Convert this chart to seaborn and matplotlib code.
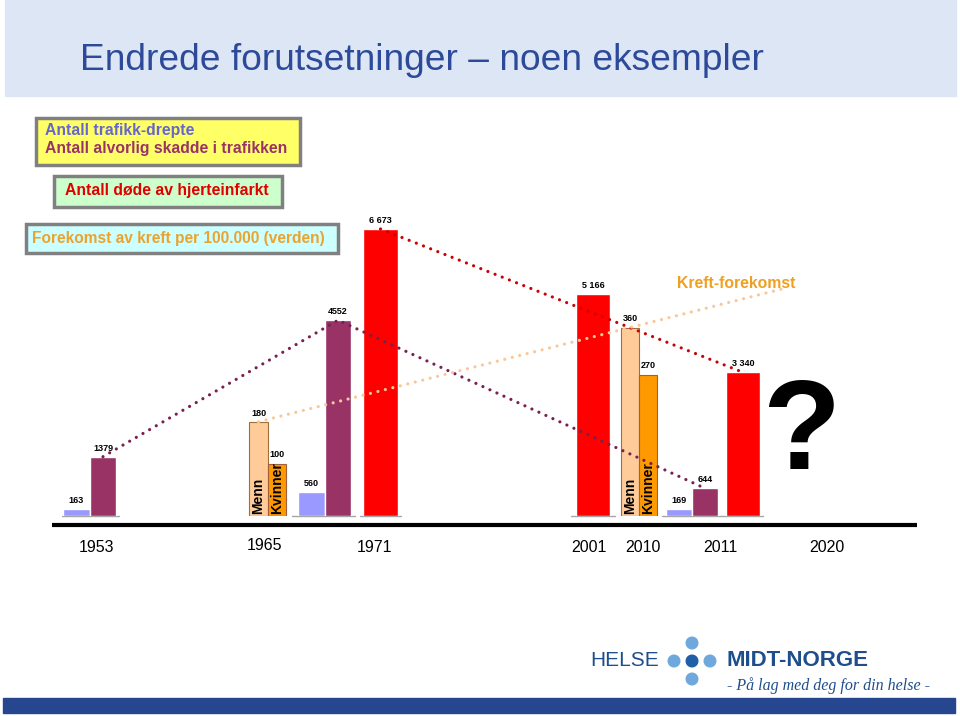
import matplotlib
matplotlib.use("Agg")
import matplotlib.pyplot as plt
from matplotlib.patches import Rectangle, Circle
import seaborn as sns

# Data
killed = [163, 560, 169]            # Antall trafikk-drepte (1953, 1971, 2011)
injured = [1379, 4552, 644]         # Antall alvorlig skadde i trafikken
heart = [6673, 5166, 3340]          # Antall døde av hjerteinfarkt
heart_labels = ["6 673", "5 166", "3 340"]
cancer_men = [180, 360]             # Forekomst av kreft per 100.000 (1965, 2010)
cancer_women = [100, 270]
years = ["1953", "1965", "1971", "2001", "2010", "2011", "2020"]

# Layout (pixel positions across the slide)
killed_x = [76.5, 311.5, 679]
injured_x = [103, 338, 705]
heart_x = [380.5, 593, 743]
men_x = [258.5, 630]
women_x = [277, 648]
year_x = [96, 264, 375, 589, 643, 720, 827]
year_y = [547, 545, 547, 547, 547, 547, 547]

C_BLUE = "#9999FF"
C_PURPLE = "#993366"
C_RED = "#FF0000"
C_PEACH = "#FFCC99"
C_ORANGE = "#FF9900"
C_NAVY = "#1F4E8C"

sns.set_style("white")
plt.rcParams["font.family"] = ["Liberation Sans", "DejaVu Sans"]
plt.rcParams["text.color"] = "black"

fig = plt.figure(figsize=(9.6, 7.16), dpi=100)

# decoration layer in pixel coordinates
deco = fig.add_axes([0, 0, 1, 1])
deco.set_xlim(0, 960)
deco.set_ylim(716, 0)
deco.axis("off")

deco.add_patch(Rectangle((5, 0), 951, 96, color="#DCE6F4", zorder=0))
deco.text(80, 60, "Endrede forutsetninger – noen eksempler", fontsize=26.7,
          color="#2D4A9A", va="center", ha="left")

# legend boxes
deco.add_patch(Rectangle((36, 118), 264, 47, facecolor="#FFFF66",
                         edgecolor="#808080", lw=2.5))
deco.text(45, 130, "Antall trafikk-drepte", fontsize=11.3, weight="bold",
          color="#6666CC", va="center")
deco.text(45, 148, "Antall alvorlig skadde i trafikken", fontsize=11.3,
          weight="bold", color="#993366", va="center")
deco.add_patch(Rectangle((54, 176), 228, 31, facecolor="#CCFFCC",
                         edgecolor="#808080", lw=2.5))
deco.text(167, 190, "Antall døde av hjerteinfarkt", fontsize=11.3,
          weight="bold", color="#E00000", va="center", ha="center")
deco.add_patch(Rectangle((26, 224), 312, 29, facecolor="#CCFFFF",
                         edgecolor="#808080", lw=2.5))
deco.text(178, 238, "Forekomst av kreft per 100.000 (verden)", fontsize=11.2,
          weight="bold", color="#EBA32F", va="center", ha="center")

deco.text(736, 283, "Kreft-forekomst", fontsize=11.3, weight="bold",
          color="#F0A020", va="center", ha="center", zorder=10)

# axis line and years
deco.plot([52, 917], [525, 525], color="black", lw=3, solid_capstyle="butt")
for x, y, t in zip(year_x, year_y, years):
    deco.text(x, y, t, fontsize=11.5, ha="center", va="center", color="black")

deco.text(801, 436, "?", fontsize=92, weight="bold", ha="center", va="center",
          color="black")

# logo
deco.text(590, 661, "HELSE", fontsize=15, color=C_NAVY, va="center")
for cx, cy in [(674, 661), (710, 661), (692, 643), (692, 679)]:
    deco.add_patch(Circle((cx, cy), 5.8, color="#6FA8DC"))
deco.add_patch(Circle((692, 661), 5.8, color="#1F5FA8"))
deco.text(727, 661, "MIDT-NORGE", fontsize=16, weight="bold", color=C_NAVY,
          va="center")
deco.text(727, 686, "- På lag med deg for din helse -", fontsize=11.5,
          style="italic", color=C_NAVY, va="center",
          family=["Liberation Serif", "DejaVu Serif"])
deco.add_patch(Rectangle((3, 698), 952, 15, color="#26478F"))

# chart layers: ax2 (cancer, per 100.000) below ax (counts)
base = (716 - 516) / 716
height = 300 / 716
ax = fig.add_axes([0, base, 1, height])
ax2 = ax.twinx()
ax.set_zorder(3)
ax2.set_zorder(2)
ax.patch.set_visible(False)
ax2.patch.set_visible(False)
for a in (ax, ax2):
    a.set_xlim(0, 960)
    a.axis("off")
ax.set_ylim(0, 300 * 23.25)
ax2.set_ylim(0, 300 * 1.91)

# grey base strokes under groups
for x0, x1 in [(62, 119), (292, 355), (360, 401), (571, 615), (662, 722), (722, 763)]:
    ax.plot([x0, x1], [0, 0], color="#A6A6A6", lw=1, clip_on=False, zorder=1)

ax.bar(killed_x, killed, width=26.5, color=C_BLUE, zorder=2)
ax.bar(injured_x, injured, width=26.5, color=C_PURPLE, zorder=2)
ax.bar(heart_x, heart, width=34.5, color=C_RED, zorder=2)

ax2.bar(men_x, cancer_men, width=18.5, color=C_PEACH, edgecolor="#A0703C",
        lw=0.8, zorder=2)
ax2.bar(women_x, cancer_women, width=18.5, color=C_ORANGE, edgecolor="#A0603C",
        lw=0.8, zorder=2)

lbl = dict(fontsize=6.5, weight="bold", ha="center", va="bottom",
           textcoords="offset points", xytext=(0, 3), zorder=6, color="black")
for x, v in zip(killed_x, killed):
    ax.annotate(str(v), (x, v), **lbl)
for x, v in zip(injured_x, injured):
    ax.annotate(str(v), (x, v), **lbl)
for x, v, t in zip(heart_x, heart, heart_labels):
    ax.annotate(t, (x, v), **lbl)
for x, v in zip(men_x + women_x, cancer_men + cancer_women):
    ax2.annotate(str(v), (x, v), **lbl)
for x in men_x:
    ax2.text(x, 3, "Menn", rotation=90, fontsize=10, weight="bold",
             ha="center", va="bottom", zorder=4, color="black")
for x in women_x:
    ax2.text(x, 3, "Kvinner", rotation=90, fontsize=10, weight="bold",
             ha="center", va="bottom", zorder=4, color="black")

# dotted trend lines
dots = dict(linewidth=2.3, linestyle=(0, (0.01, 2.4)), dash_capstyle="round")
sns.lineplot(x=injured_x, y=injured, ax=ax, color="#7A1F4F", sort=False,
             estimator=None, zorder=5, **dots)
sns.lineplot(x=[heart_x[0], heart_x[2]], y=[heart[0], heart[2]], ax=ax,
             color="#CC0000", sort=False, estimator=None, zorder=5, **dots)

# cancer trend, extended towards the "Kreft-forekomst" label
slope = (cancer_men[1] - cancer_men[0]) / (men_x[1] - men_x[0])
ext_x = 785
ext_y = cancer_men[1] + slope * (ext_x - men_x[1])
ax.plot([men_x[0], men_x[1], ext_x], [cancer_men[0], cancer_men[1], ext_y],
        color="#F8C89A", transform=ax2.transData, zorder=6, **dots)

fig.savefig("out.png", dpi=100)
